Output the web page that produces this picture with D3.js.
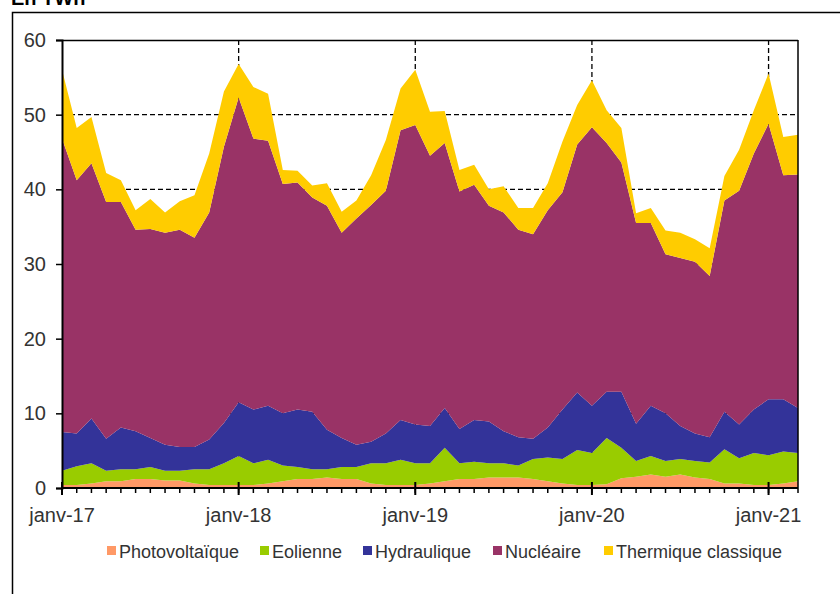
<!DOCTYPE html>
<html>
<head>
<meta charset="utf-8">
<script src="https://cdn.jsdelivr.net/npm/d3@7"></script>
<style>
  body { margin: 0; background: #fff; }
  svg { display: block; font-family: "Liberation Sans", Arial, sans-serif; }
  .tick-label { fill: #333; font-size: 20px; }
  .legend-label { fill: #333; font-size: 18px; }
</style>
</head>
<body>
<div id="chart"></div>
<script>
// monthly production, janv-17 .. mars-21 (TWh)
const months = d3.timeMonth.range(new Date(2017, 0, 1), new Date(2021, 3, 1));

const photovoltaique = [0.4, 0.4, 0.6, 0.9, 0.9, 1.2, 1.2, 1.0, 1.0, 0.6, 0.4, 0.4,
  0.4, 0.4, 0.6, 0.9, 1.2, 1.2, 1.4, 1.2, 1.2, 0.6, 0.4, 0.4,
  0.4, 0.6, 0.9, 1.2, 1.2, 1.4, 1.4, 1.4, 1.2, 0.9, 0.6, 0.4,
  0.4, 0.5, 1.3, 1.5, 1.8, 1.5, 1.8, 1.4, 1.2, 0.6, 0.6, 0.4,
  0.4, 0.6, 0.9];
const eolienne = [1.9, 2.5, 2.7, 1.4, 1.6, 1.3, 1.6, 1.3, 1.3, 1.9, 2.1, 2.9,
  3.9, 2.9, 3.2, 2.1, 1.6, 1.3, 1.1, 1.6, 1.6, 2.7, 2.9, 3.4,
  2.9, 2.7, 4.5, 2.1, 2.3, 1.9, 1.9, 1.6, 2.7, 3.2, 3.3, 4.7,
  4.3, 6.2, 4.1, 2.1, 2.5, 2.1, 2.1, 2.2, 2.2, 4.6, 3.4, 4.3,
  4.0, 4.3, 3.8];
const hydraulique = [5.2, 4.4, 6.0, 4.3, 5.6, 5.1, 3.9, 3.5, 3.2, 3.0, 4.0, 5.4,
  7.2, 7.2, 7.2, 7.0, 7.7, 7.7, 5.3, 3.9, 3.0, 2.9, 4.0, 5.3,
  5.2, 5.0, 5.3, 4.6, 5.6, 5.6, 4.3, 3.8, 2.7, 4.0, 6.6, 7.7,
  6.3, 6.2, 7.5, 5.0, 6.7, 6.4, 4.4, 3.7, 3.4, 5.0, 4.5, 5.8,
  7.5, 7.0, 6.0];
const nucleaire = [39.3, 33.9, 34.2, 31.7, 30.2, 27.0, 28.0, 28.4, 29.1, 28.0, 30.4, 37.0,
  40.8, 36.3, 35.5, 30.7, 30.4, 28.7, 30.0, 27.5, 30.3, 31.7, 32.5, 38.8,
  40.1, 36.2, 35.5, 31.8, 31.5, 28.9, 29.3, 27.8, 27.4, 29.1, 29.1, 33.2,
  37.3, 33.3, 30.7, 26.9, 24.5, 21.3, 22.5, 23.0, 21.6, 28.3, 31.3, 34.3,
  36.9, 30.0, 31.3];
const thermique = [9.2, 7.0, 6.2, 3.9, 2.9, 2.6, 4.0, 2.7, 3.8, 5.7, 7.9, 7.4,
  4.5, 6.9, 6.3, 1.9, 1.6, 1.6, 3.0, 2.8, 2.4, 4.0, 6.8, 5.6,
  7.4, 5.9, 4.3, 2.9, 2.7, 2.2, 3.5, 2.9, 3.5, 3.6, 6.8, 5.3,
  6.3, 4.4, 4.6, 1.3, 2.0, 3.2, 3.4, 3.0, 3.7, 3.3, 5.5, 5.8,
  6.7, 5.1, 5.3];

const seriesKeys = ["Photovoltaïque", "Eolienne", "Hydraulique", "Nucléaire", "Thermique classique"];
const seriesColors = ["#FF9966", "#99CC00", "#333399", "#993366", "#FFCC00"];
const yTicks = [0, 10, 20, 30, 40, 50, 60];
const xTickLabels = ["janv-17", "janv-18", "janv-19", "janv-20", "janv-21"];
const xTickIndex = [0, 12, 24, 36, 48];

// table for d3.stack
const table = months.map((m, i) => ({
  date: m,
  "Photovoltaïque": photovoltaique[i],
  "Eolienne": eolienne[i],
  "Hydraulique": hydraulique[i],
  "Nucléaire": nucleaire[i],
  "Thermique classique": thermique[i]
}));

const W = 840;
const H = 594;
const M = { left: 62, right: 42, top: 40, bottom: 106 };
const innerW = W - M.left - M.right;
const innerH = H - M.top - M.bottom;

const svg = d3.select("#chart").append("svg")
  .attr("width", W)
  .attr("height", H);

// outer frame and title (cut by the top edge)
svg.append("rect")
  .attr("x", 12.5).attr("y", 12.5)
  .attr("width", 900).attr("height", 700)
  .attr("fill", "none").attr("stroke", "#000").attr("stroke-width", 1.5);

svg.append("text")
  .attr("x", 11).attr("y", 5)
  .attr("font-weight", "bold").attr("font-size", 20)
  .attr("fill", "#000")
  .text("En TWh");

const x = d3.scaleLinear().domain([0, months.length - 1]).range([0, innerW]);
const y = d3.scaleLinear().domain([0, 60]).range([innerH, 0]);

const g = svg.append("g").attr("transform", `translate(${M.left},${M.top})`);

// grid (behind the areas)
const $grid = g.append("g").attr("class", "grid");
$grid.selectAll(".hgrid")
  .data(yTicks.filter(d => d > 0 && d < 60))
  .join("line")
  .attr("x1", 0).attr("x2", innerW)
  .attr("y1", d => y(d)).attr("y2", d => y(d))
  .attr("stroke", "#000").attr("stroke-width", 1.3)
  .attr("stroke-dasharray", "5,3");
$grid.selectAll(".vgrid")
  .data(xTickIndex.filter(d => d > 0))
  .join("line")
  .attr("x1", d => x(d)).attr("x2", d => x(d))
  .attr("y1", 0).attr("y2", innerH)
  .attr("stroke", "#000").attr("stroke-width", 1.3)
  .attr("stroke-dasharray", "5,3");

// stacked areas
const stack = d3.stack().keys(seriesKeys);
const layers = stack(table);

const area = d3.area()
  .x((d, i) => x(i))
  .y0(d => y(d[0]))
  .y1(d => y(d[1]));

g.append("g").selectAll("path")
  .data(layers)
  .join("path")
  .attr("fill", (d, i) => seriesColors[i])
  .attr("d", area);

// plot frame: top and right solid borders
g.append("line")
  .attr("x1", 0).attr("x2", innerW).attr("y1", 0.5).attr("y2", 0.5)
  .attr("stroke", "#000").attr("stroke-width", 1.5);
g.append("line")
  .attr("x1", innerW).attr("x2", innerW).attr("y1", 0).attr("y2", innerH)
  .attr("stroke", "#000").attr("stroke-width", 1.5);

// y axis
const yAxis = d3.axisLeft(y).tickValues(yTicks).tickSize(6).tickPadding(10);
const $yAxis = g.append("g").call(yAxis);
$yAxis.select(".domain").attr("stroke", "#000").attr("stroke-width", 2);
$yAxis.selectAll(".tick line").attr("stroke", "#000").attr("stroke-width", 1.5);
$yAxis.selectAll(".tick text")
  .attr("class", "tick-label")
  .attr("font-size", null).attr("font-family", null);

// x axis: monthly minor ticks, yearly major ticks
const $xAxis = g.append("g").attr("transform", `translate(0,${innerH})`);
$xAxis.selectAll(".minor")
  .data(d3.range(months.length))
  .join("line")
  .attr("x1", d => x(d)).attr("x2", d => x(d))
  .attr("y1", 0).attr("y2", 5)
  .attr("stroke", "#000").attr("stroke-width", 1.5);
$xAxis.selectAll(".major")
  .data(xTickIndex)
  .join("line")
  .attr("x1", d => x(d)).attr("x2", d => x(d))
  .attr("y1", -6).attr("y2", 7)
  .attr("stroke", "#000").attr("stroke-width", 2);
$xAxis.append("line")
  .attr("x1", 0).attr("x2", innerW).attr("y1", 0).attr("y2", 0)
  .attr("stroke", "#000").attr("stroke-width", 2);
$xAxis.selectAll(".xl")
  .data(xTickIndex)
  .join("text")
  .attr("class", "tick-label")
  .attr("x", d => x(d))
  .attr("y", 34)
  .attr("text-anchor", "middle")
  .text((d, i) => xTickLabels[i]);

// legend
const legendX = [107, 260, 363, 493, 604];
const $legend = svg.append("g").attr("transform", "translate(0,551)");
const $item = $legend.selectAll("g")
  .data(seriesKeys)
  .join("g")
  .attr("transform", (d, i) => `translate(${legendX[i]},0)`);
$item.append("rect")
  .attr("x", 0).attr("y", -5)
  .attr("width", 9).attr("height", 9)
  .attr("fill", (d, i) => seriesColors[i]);
$item.append("text")
  .attr("class", "legend-label")
  .attr("x", 12).attr("y", 6.5)
  .text(d => d);
</script>
</body>
</html>
